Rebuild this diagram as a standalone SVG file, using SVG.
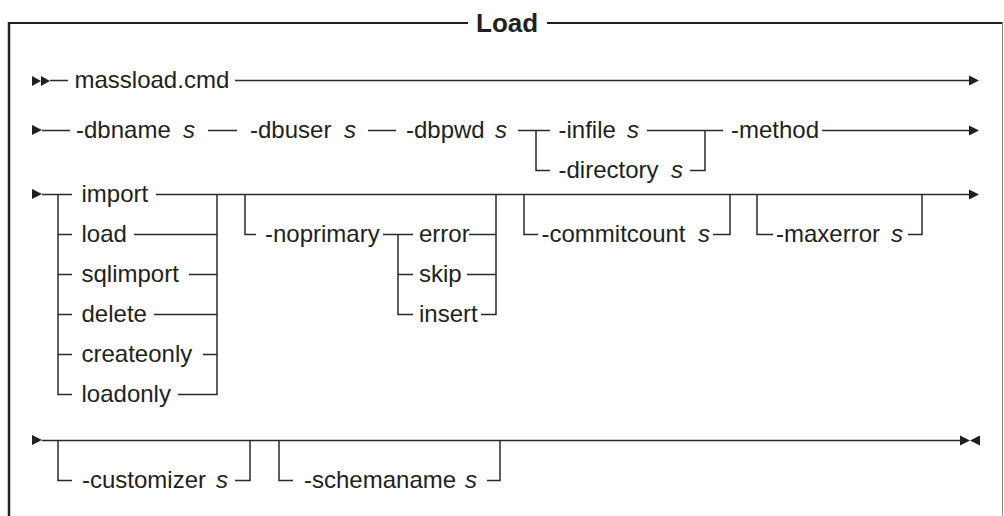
<svg xmlns="http://www.w3.org/2000/svg" width="1004" height="516" viewBox="0 0 1004 516">
<style>
.t{font-family:"Liberation Sans",Arial,Helvetica,sans-serif;font-size:24px;fill:#231f20}
.i{font-style:italic}
.title{font-family:"Liberation Sans",Arial,Helvetica,sans-serif;font-size:26px;font-weight:bold;fill:#231f20}
.c{fill:none;stroke:#2a2a2a;stroke-width:1.5}
.ah{fill:#231f20}
</style>
<rect width="1004" height="516" fill="#fff"/>
<g id="frame">
<path d="M9,23 H468 M547,23 H1002" fill="none" stroke="#231f20" stroke-width="2.2"/>
<path d="M9,22 V516" fill="none" stroke="#231f20" stroke-width="2.5"/>
<path d="M1002.5,22 V516" fill="none" stroke="#8a8a8a" stroke-width="1"/>
<text class="title" x="476" y="32">Load</text>
</g>
<g id="connectors">
<!-- row 1 -->
<polygon class="ah" points="32,76 41,81 32,86"/>
<polygon class="ah" points="41,76 50,81 41,86"/>
<path class="c" d="M50,80.5 H68 M235,80.5 H970"/>
<polygon class="ah" points="969,75.5 979,80.5 969,85.5"/>
<!-- row 2 -->
<polygon class="ah" points="32,125 42,130 32,135"/>
<path class="c" d="M42,130.5 H70 M208,130.5 H237 M368,130.5 H396 M518,130.5 H550 M536,130.5 V170.5 H550 M647,130.5 H723 M690,170.5 H705 V130.5 M822,130.5 H970"/>
<polygon class="ah" points="969,125.5 979,130.5 969,135.5"/>
<!-- row 3 -->
<polygon class="ah" points="32,189 42,194 32,199"/>
<path class="c" d="M42,194.5 H72 M58,194.5 V394.5 H72 M58,234.5 H72 M58,274.5 H72 M58,314.5 H72 M58,354.5 H72"/>
<path class="c" d="M156,194.5 H970 M134,234.5 H217 M189,274.5 H217 M154,314.5 H217 M203,354.5 H217 M178,394.5 H217 V194.5"/>
<path class="c" d="M245,194.5 V234.5 H256 M383,234.5 H413 M398,234.5 V314.5 H413 M398,274.5 H413 M469,234.5 H496 M467,274.5 H496 M481,314.5 H496 V194.5"/>
<path class="c" d="M524,194.5 V234.5 H538 M713,234.5 H730 V194.5"/>
<path class="c" d="M757,194.5 V234.5 H773 M908,234.5 H922 V194.5"/>
<polygon class="ah" points="969,189.5 979,194.5 969,199.5"/>
<!-- row 4 -->
<polygon class="ah" points="32,435 42,440 32,445"/>
<path class="c" d="M42,440.5 H961"/>
<path class="c" d="M58,440.5 V480.5 H72 M235,480.5 H250 V440.5"/>
<path class="c" d="M279,440.5 V480.5 H293 M487,480.5 H500 V440.5"/>
<polygon class="ah" points="960,435.5 970,440.5 960,445.5"/>
<polygon class="ah" points="980,435.5 970,440.5 980,445.5"/>
</g>
<g id="n-massload"><text class="t" x="74.5" y="88">massload.cmd</text></g>
<g id="n-dbname"><text class="t" x="76" y="138">-dbname</text><text class="t i" x="183" y="138">s</text></g>
<g id="n-dbuser"><text class="t" x="250" y="138">-dbuser</text><text class="t i" x="344" y="138">s</text></g>
<g id="n-dbpwd"><text class="t" x="406" y="138">-dbpwd</text><text class="t i" x="495" y="138">s</text></g>
<g id="n-infile"><text class="t" x="558.5" y="138">-infile</text><text class="t i" x="627" y="138">s</text></g>
<g id="n-directory"><text class="t" x="558.5" y="178">-directory</text><text class="t i" x="671" y="178">s</text></g>
<g id="n-method"><text class="t" x="731" y="138">-method</text></g>
<g id="n-import"><text class="t" x="81.5" y="202">import</text></g>
<g id="n-load"><text class="t" x="81.5" y="242">load</text></g>
<g id="n-sqlimport"><text class="t" x="81.5" y="282">sqlimport</text></g>
<g id="n-delete"><text class="t" x="81.5" y="322">delete</text></g>
<g id="n-createonly"><text class="t" x="81.5" y="362">createonly</text></g>
<g id="n-loadonly"><text class="t" x="81.5" y="402">loadonly</text></g>
<g id="n-noprimary"><text class="t" x="265" y="242">-noprimary</text></g>
<g id="n-error"><text class="t" x="419" y="242">error</text></g>
<g id="n-skip"><text class="t" x="419" y="282">skip</text></g>
<g id="n-insert"><text class="t" x="419" y="322">insert</text></g>
<g id="n-commitcount"><text class="t" x="541.5" y="242">-commitcount</text><text class="t i" x="698" y="242">s</text></g>
<g id="n-maxerror"><text class="t" x="776" y="242">-maxerror</text><text class="t i" x="891" y="242">s</text></g>
<g id="n-customizer"><text class="t" x="82" y="488">-customizer</text><text class="t i" x="216" y="488">s</text></g>
<g id="n-schemaname"><text class="t" x="304" y="488">-schemaname</text><text class="t i" x="465" y="488">s</text></g>
</svg>
